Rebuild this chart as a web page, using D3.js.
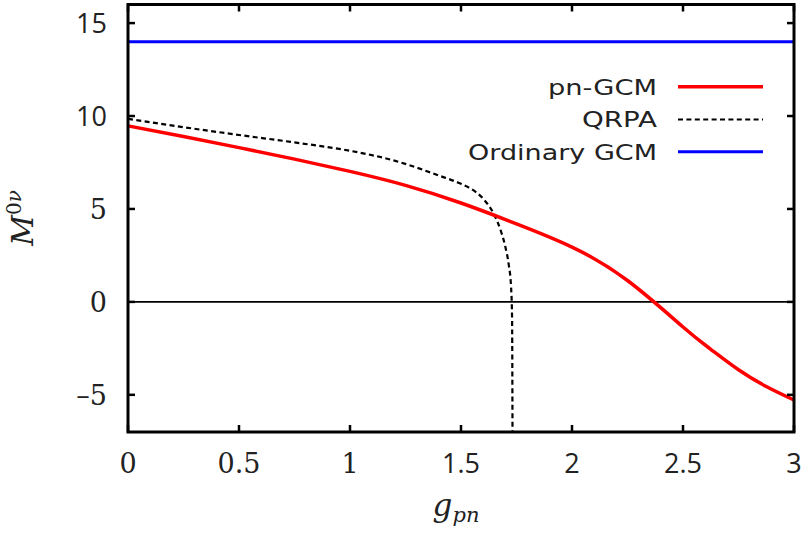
<!DOCTYPE html>
<html><head><meta charset="utf-8">
<script src="https://cdn.jsdelivr.net/npm/d3@7"></script>
<style>body{margin:0;background:#fff}svg{display:block}</style>
</head><body>
<svg id="c" width="809" height="533"></svg>
<script>
const seriesNames = ["pn-GCM", "QRPA", "Ordinary GCM"];
const pnGCM_g   = [0, 0.25, 0.5, 0.75, 1.0, 1.25, 1.5, 1.75, 2.0, 2.25, 2.5, 2.625, 2.75, 2.875, 3.0];
const pnGCM_M   = [9.47, 8.9, 8.3, 7.68, 7.02, 6.27, 5.32, 4.2, 2.95, 1.15, -1.35, -2.55, -3.65, -4.55, -5.28];
const qrpa_g    = [0, 0.25, 0.5, 0.75, 1.0, 1.2, 1.4, 1.5, 1.55, 1.6, 1.65, 1.68, 1.7, 1.715, 1.725, 1.73, 1.732];
const qrpa_M    = [9.85, 9.4, 8.98, 8.58, 8.13, 7.6, 6.8, 6.35, 6.05, 5.55, 4.68, 3.8, 2.95, 2.0, 0.9, -0.8, -7];
const ordinary_g = [0, 3];
const ordinary_M = [14, 14];
const xTicks = [0, 0.5, 1, 1.5, 2, 2.5, 3];
const xTickLabels = ["0", "0.5", "1", "1.5", "2", "2.5", "3"];
const yTicks = [-5, 0, 5, 10, 15];
const yTickLabels = ["-5", "0", "5", "10", "15"];
const xDomain = [0, 3];
const yDomain = [-7, 16];

const svg = d3.select("#c");
const L = 128, R = 794, T = 4.5, B = 432;
const x = d3.scaleLinear().domain(xDomain).range([L, R]);
const y = d3.scaleLinear().domain(yDomain).range([B, T]);

// serif vs sans labels as in the reference rendering
const serifX = new Set(["0", "0.5", "1"]);
const serifY = new Set(["-5", "0", "5"]);
const serif = "'DejaVu Serif', 'Liberation Serif', serif";
const sans = "'Open Sans', 'DejaVu Sans', sans-serif";

// zero line
svg.append("line").attr("x1", x(xDomain[0])).attr("x2", x(xDomain[1]))
  .attr("y1", y(0)).attr("y2", y(0)).attr("stroke", "#000").attr("stroke-width", 1.6);

const zip = (a, b) => a.map((v, i) => [v, b[i]]);
const lineMono = d3.line().x(d => x(d[0])).y(d => y(d[1])).curve(d3.curveMonotoneX);
const lineNat = d3.line().x(d => x(d[0])).y(d => y(d[1])).curve(d3.curveNatural);

svg.append("path").datum(zip(ordinary_g, ordinary_M)).attr("d", lineMono)
  .attr("fill", "none").attr("stroke", "#0000ff").attr("stroke-width", 3);
svg.append("path").datum(zip(qrpa_g, qrpa_M)).attr("d", lineMono)
  .attr("fill", "none").attr("stroke", "#000").attr("stroke-width", 2.2)
  .attr("stroke-dasharray", "5,3.4");
svg.append("path").datum(zip(pnGCM_g, pnGCM_M)).attr("d", lineNat)
  .attr("fill", "none").attr("stroke", "#ff0000").attr("stroke-width", 3.5);

// ticks (inward, mirrored)
const tl = 7;
const tg = svg.append("g").attr("stroke", "#000").attr("stroke-width", 2.5);
xTicks.forEach(t => {
  tg.append("line").attr("x1", x(t)).attr("x2", x(t)).attr("y1", B).attr("y2", B - tl);
  tg.append("line").attr("x1", x(t)).attr("x2", x(t)).attr("y1", T).attr("y2", T + tl);
});
yTicks.forEach(t => {
  tg.append("line").attr("x1", L).attr("x2", L + tl).attr("y1", y(t)).attr("y2", y(t));
  tg.append("line").attr("x1", R).attr("x2", R - tl).attr("y1", y(t)).attr("y2", y(t));
});

// frame
svg.append("rect").attr("x", L).attr("y", T).attr("width", R - L).attr("height", B - T)
  .attr("fill", "none").attr("stroke", "#000").attr("stroke-width", 3);

// tick labels
xTicks.forEach((t, i) => {
  const lab = xTickLabels[i];
  svg.append("text").attr("x", x(t)).attr("y", 473).attr("text-anchor", "middle")
    .attr("font-family", serifX.has(lab) ? serif : sans).attr("font-size", 27)
    .attr("fill", "#222").text(lab);
});
yTicks.forEach((t, i) => {
  const lab = yTickLabels[i];
  svg.append("text").attr("x", 107).attr("y", y(t)).attr("dy", "0.36em").attr("text-anchor", "end")
    .attr("font-family", serifY.has(lab) ? serif : sans).attr("font-size", 27)
    .attr("fill", "#222").text(lab === "-5" ? "\u20135" : lab);
});

// axis titles
const yt = svg.append("text").attr("transform", "translate(33,218) rotate(-90)")
  .attr("text-anchor", "middle").attr("font-family", serif).attr("fill", "#222");
yt.append("tspan").attr("font-style", "italic").attr("font-size", 30).text("M");
yt.append("tspan").attr("font-size", 20).attr("dy", -12).text("0");
yt.append("tspan").attr("font-size", 20).attr("font-style", "italic").text("\u03bd");

const xt = svg.append("text").attr("x", 456).attr("y", 516).attr("text-anchor", "middle")
  .attr("font-family", serif).attr("fill", "#222");
xt.append("tspan").attr("font-style", "italic").attr("font-size", 31).text("g");
xt.append("tspan").attr("font-style", "italic").attr("font-size", 21).attr("dy", 6).text("pn");

// legend
const legColors = ["#ff0000", "#000", "#0000ff"];
const legDash = [null, "5,3.4", null];
const legW = [3.5, 2.2, 3];
const legY = [86.7, 119.5, 151.7];
const legTextW = [109, 75, 189];
seriesNames.forEach((n, i) => {
  svg.append("text").attr("x", 657).attr("y", legY[i]).attr("dy", "0.36em").attr("text-anchor", "end")
    .attr("font-family", "'DejaVu Sans', sans-serif").attr("font-size", 22).attr("fill", "#222")
    .attr("textLength", legTextW[i]).attr("lengthAdjust", "spacingAndGlyphs").text(n);
  svg.append("line").attr("x1", 678).attr("x2", 763).attr("y1", legY[i]).attr("y2", legY[i])
    .attr("stroke", legColors[i]).attr("stroke-width", legW[i])
    .attr("stroke-dasharray", legDash[i]);
});
</script>
</body></html>
